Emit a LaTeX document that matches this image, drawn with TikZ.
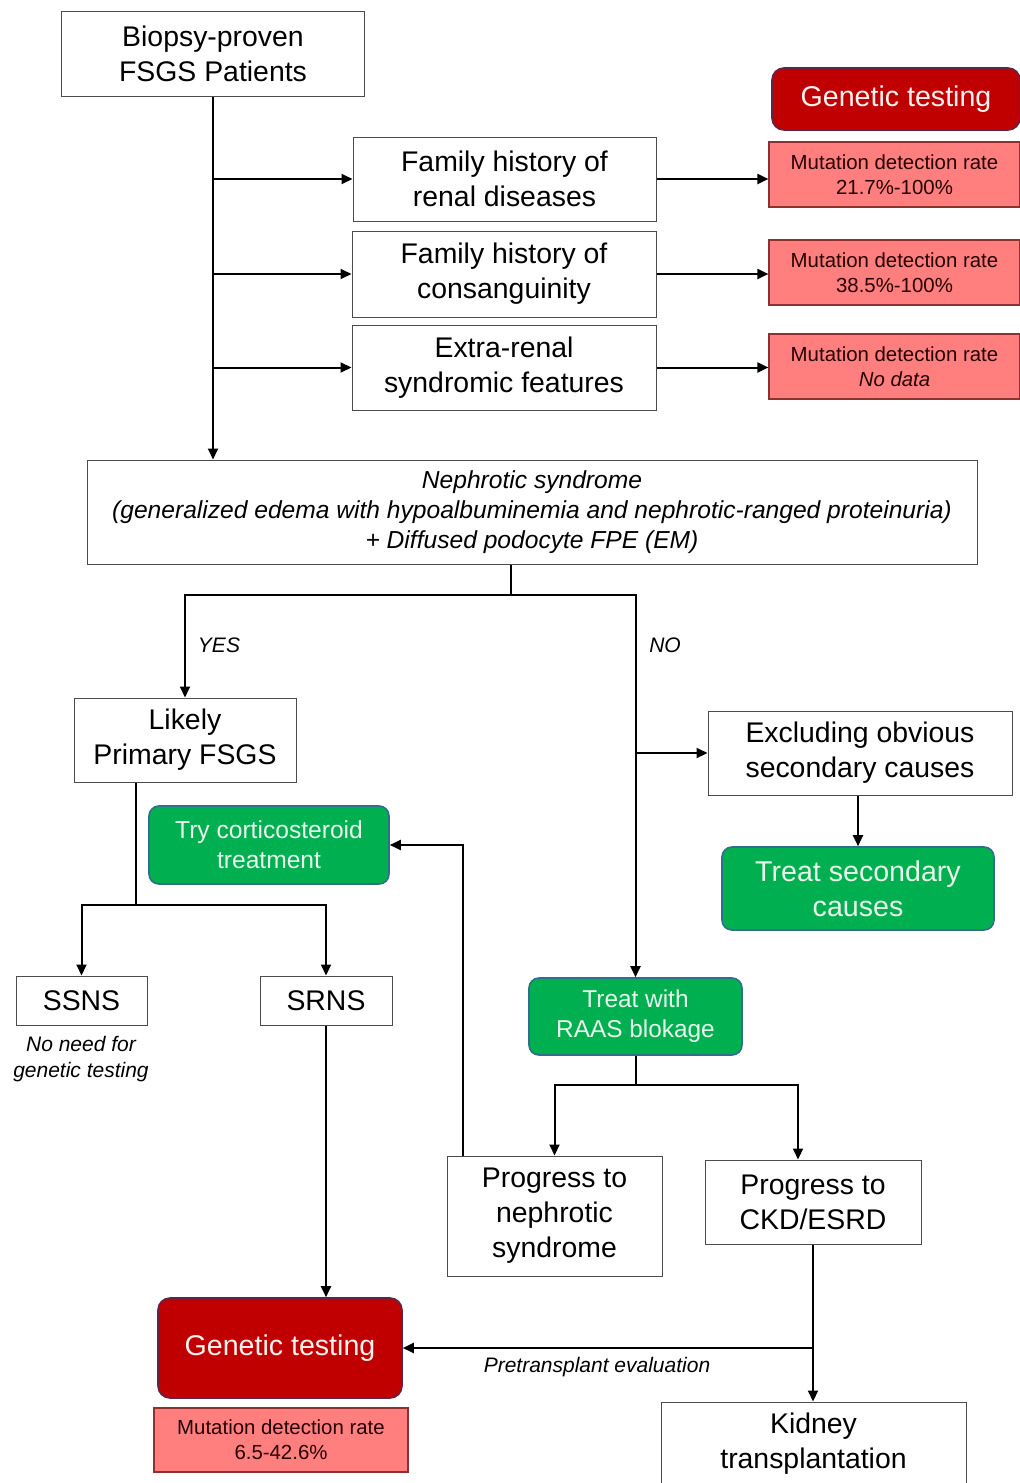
\documentclass[tikz,border=0pt]{standalone}
\usepackage{fontspec}
\setmainfont{Liberation Sans}
\usetikzlibrary{arrows.meta}

\definecolor{okgreen}{HTML}{00B050}
\definecolor{okborder}{HTML}{2F6E8C}
\definecolor{gtred}{HTML}{C00000}
\definecolor{gtborder}{HTML}{5E2548}
\definecolor{mdrfill}{HTML}{FF7F7F}
\definecolor{mdrborder}{HTML}{8E3030}
\definecolor{paletext}{HTML}{E8F8EC}

\begin{document}
\begin{tikzpicture}[x=0.5pt, y=-0.5pt,
  box/.style={draw=black!70, line width=0.5pt, fill=white, align=center, inner sep=0pt, font=\fontsize{14.2}{17.5}\selectfont},
  gbox/.style={draw=okborder, line width=0.8pt, fill=okgreen, rounded corners=5pt, align=center, inner sep=0pt, text=paletext},
  rbox/.style={draw=gtborder, line width=0.8pt, fill=gtred, rounded corners=6pt, inner sep=0pt, text=white!95!red, font=\fontsize{14.3}{17.5}\selectfont},
  mbox/.style={draw=mdrborder, line width=0.6pt, fill=mdrfill, align=center, inner sep=0pt, text=black!85!red, font=\fontsize{10.2}{12.5}\selectfont},
  note/.style={font=\itshape\fontsize{10.5}{13}\selectfont, align=center, inner sep=0pt},
  link/.style={line width=1pt},
  arr/.style={line width=1pt, -{Triangle[length=5.5pt,width=5pt]}}]

\useasboundingbox[fill=white] (0,0) rectangle (1020,1483);

% top part
\node[box, minimum width=151.5pt, minimum height=42.5pt] (bio) at (213,54) {Biopsy-proven\\FSGS Patients};
\node[box, minimum width=151.5pt, minimum height=42pt] (hint1) at (504.5,179) {Family history of\\renal diseases};
\node[box, minimum width=152pt, minimum height=43pt] (hint2) at (504,274) {Family history of\\consanguinity};
\node[box, minimum width=152pt, minimum height=42.5pt] (hint3) at (504,367.5) {Extra-renal\\syndromic features};

\node[rbox, minimum width=124pt, minimum height=31pt] (gt1) at (896,99) {Genetic testing};
\node[mbox, minimum width=125.5pt, minimum height=32.5pt] (mdr1) at (894.5,174.5) {Mutation detection rate\\21.7\%-100\%};
\node[mbox, minimum width=125.5pt, minimum height=32.5pt] (mdr2) at (894.5,272.5) {Mutation detection rate\\38.5\%-100\%};
\node[mbox, minimum width=125.5pt, minimum height=32.5pt] (mdr3) at (894.5,366.5) {Mutation detection rate\\\textit{No data}};

\node[box, minimum width=445pt, minimum height=52pt, font=\itshape\fontsize{12.3}{15}\selectfont] (ns) at (532,512)
  {Nephrotic syndrome\\(generalized edema with hypoalbuminemia and nephrotic-ranged proteinuria)\\+ Diffused podocyte FPE (EM)};

\node[note] (yes) at (219,645) {YES};
\node[note] (no) at (665,645) {NO};

% left branch
\node[box, minimum width=111pt, minimum height=42pt] (likely) at (185,740) {Likely\\Primary FSGS};
\node[gbox, minimum width=120pt, minimum height=39pt, font=\fontsize{12.3}{15}\selectfont] (cort) at (269,845) {Try corticosteroid\\treatment};
\node[box, minimum width=65.5pt, minimum height=24.5pt] (ssns) at (81.5,1000.5) {SSNS};
\node[box, minimum width=66pt, minimum height=24.5pt] (srns) at (326,1000.5) {SRNS};
\node[note] (noneed) at (81,1059) {No need for\\genetic testing};

% right branch
\node[box, minimum width=152pt, minimum height=42pt] (excl) at (860,753) {Excluding obvious\\secondary causes};
\node[gbox, minimum width=136pt, minimum height=41.5pt, font=\fontsize{14.3}{17.5}\selectfont] (treatsec) at (858,888.5) {Treat secondary\\causes};
\node[gbox, minimum width=106.5pt, minimum height=38.5pt, font=\fontsize{12.2}{15}\selectfont] (raas) at (635.5,1016.5) {Treat with\\RAAS blokage};
\node[box, minimum width=107.5pt, minimum height=60pt] (prog) at (554.5,1216) {Progress to\\nephrotic\\syndrome};
\node[box, minimum width=108pt, minimum height=42pt] (ckd) at (813,1202) {Progress to\\CKD/ESRD};

% bottom
\node[rbox, minimum width=122pt, minimum height=50pt] (gt2) at (280,1348) {Genetic testing};
\node[mbox, minimum width=127pt, minimum height=32pt] (mdr4) at (281,1440) {Mutation detection rate\\6.5-42.6\%};
\node[box, minimum width=152.5pt, minimum height=42pt] (kid) at (813.5,1444) {Kidney\\transplantation};
\node[note] (pretx) at (597,1367) {Pretransplant evaluation};

% connectors
\draw[arr] (bio.south) -- (bio.south |- ns.north);
\foreach \n in {1,2,3}{
  \draw[arr] (bio.south |- hint\n.west) -- (hint\n.west);
  \draw[arr] (hint\n.east) -- (hint\n.east -| mdr\n.west);
}

\coordinate (nssplit) at (511,595);
\draw[link] (ns.south -| nssplit) -- (nssplit);
\draw[arr] (nssplit) -| (likely.north);
\draw[arr] (nssplit) -| (raas.north);
\draw[arr] (raas.north |- excl.west) -- (excl.west);
\draw[arr] (treatsec.north |- excl.south) -- (treatsec.north);

\coordinate (fsplit) at (136,905);
\draw[link] (likely.south -| fsplit) -- (fsplit);
\draw[arr] (fsplit) -| (ssns.north);
\draw[arr] (fsplit) -| (srns.north);
\draw[arr] (srns.south) -- (srns.south |- gt2.north);

\coordinate (rsplit) at (635.5,1085);
\draw[link] (raas.south) -- (rsplit);
\draw[arr] (rsplit) -| (prog.north);
\draw[arr] (rsplit) -| ([xshift=-7.5pt]ckd.north);
\draw[arr] ([xshift=-45.75pt]prog.north) |- (cort.east);
\draw[arr] (ckd.south) -- (ckd.south |- kid.north);
\draw[arr] (ckd.south |- gt2.east) -- (gt2.east);

\end{tikzpicture}
\end{document}
